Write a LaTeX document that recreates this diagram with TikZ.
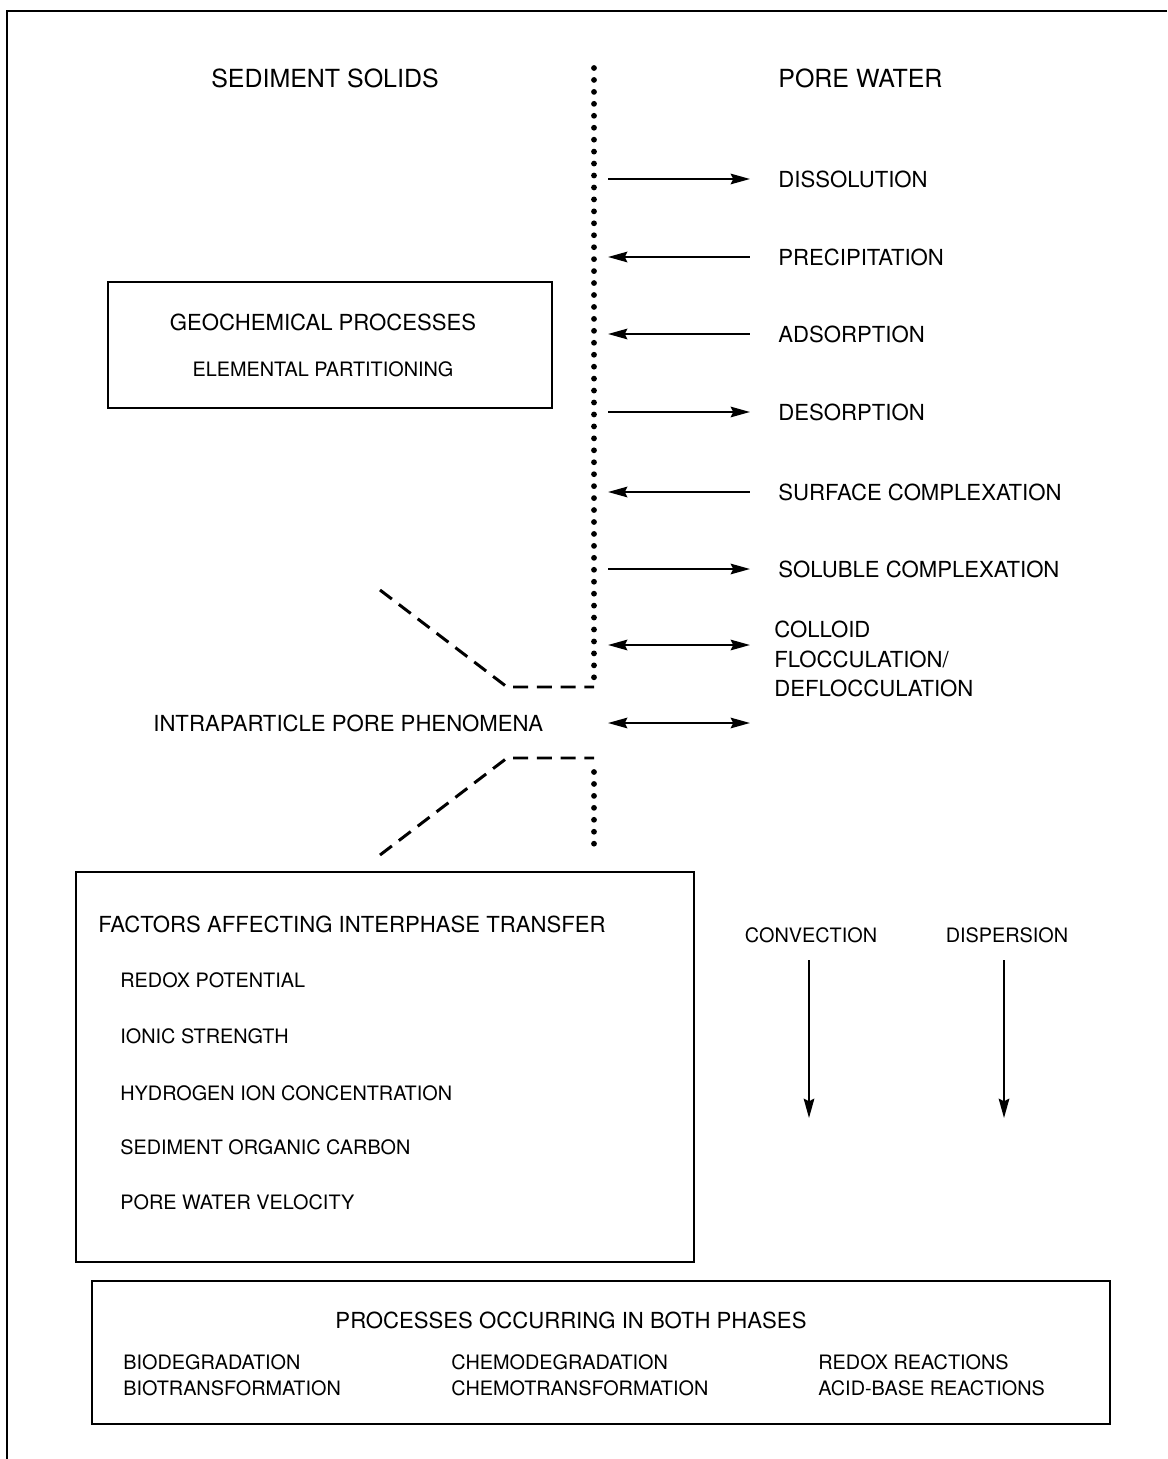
\documentclass[tikz,border=0pt]{standalone}
\usepackage{fontspec}
\setmainfont{TeX Gyre Heros}
\usepackage{tikz}
\usetikzlibrary{arrows.meta}

\begin{document}
\begin{tikzpicture}[
  x=0.02cm,
  y=-0.02cm,
  font=\fontsize{12.6}{16.7}\selectfont,
  >={Stealth[length=11pt,width=6pt,inset=1.5pt]},
  head/.style={font=\fontsize{14.2}{17}\selectfont, inner sep=0pt},
  small/.style={font=\fontsize{11.3}{13.5}\selectfont},
  lbl/.style={anchor=west, inner sep=0pt},
  frame/.style={draw, line width=1.5pt},
  box/.style={draw, line width=1.3pt},
  arr/.style={line width=1.3pt},
  fwd/.style={->},
  bwd/.style={<-},
  both/.style={<->},
  interface/.style={line width=3.3pt, line cap=round, dash pattern=on 0pt off 6.8pt},
  pore/.style={line width=1.7pt, dash pattern=on 8.5pt off 5pt}
]
  \useasboundingbox (0,0) rectangle (1167,1459);
  \draw[frame] (1167,11) -- (7,11) -- (7,1459);

  \node[head] (solids) at (325,78) {SEDIMENT SOLIDS};
  \node[head,lbl] (water) at (778,78) {PORE WATER};

  \coordinate (itop) at (594,68);
  \coordinate (igapa) at (594,680);
  \coordinate (igapb) at (594,772);
  \coordinate (ibot) at (594,846);
  \draw[interface] (itop) -- (igapa);
  \draw[interface] (igapb) -- (ibot);

  \foreach \y/\txt/\tip/\nm in {179/DISSOLUTION/fwd/diss,
                                257/PRECIPITATION/bwd/prec,
                                334/ADSORPTION/bwd/ads,
                                412/DESORPTION/fwd/des,
                                492/SURFACE COMPLEXATION/bwd/surf,
                                569/SOLUBLE COMPLEXATION/fwd/sol} {
    \node[lbl] (\nm) at (778,\y) {\txt};
    \coordinate (\nm-l) at (608,\y);
    \coordinate (\nm-r) at (750,\y);
    \draw[arr,\tip] (\nm-l) -- (\nm-r);
  }

  \node[lbl,align=left] (coll) at (774,659) {COLLOID\\FLOCCULATION/\\DEFLOCCULATION};
  \coordinate (coll-l) at (608,645);
  \coordinate (coll-r) at (750,645);
  \draw[arr,both] (coll-l) -- (coll-r);

  \node[lbl] (intra) at (153,723) {INTRAPARTICLE PORE PHENOMENA};
  \coordinate (intra-l) at (608,723);
  \coordinate (intra-r) at (750,723);
  \draw[arr,both] (intra-l) -- (intra-r);

  \coordinate (pua) at (380,590);
  \coordinate (pub) at (507,687);
  \coordinate (puc) at (594,687);
  \draw[pore] (pua) -- (pub) -- (puc);
  \coordinate (pla) at (380,855);
  \coordinate (plb) at (507,758);
  \coordinate (plc) at (594,758);
  \draw[pore] (pla) -- (plb) -- (plc);

  \draw[box] (108,282) rectangle (552,408);
  \node (geo) at (323,322) {GEOCHEMICAL PROCESSES};
  \node[small] (part) at (323,369) {ELEMENTAL PARTITIONING};

  \draw[box] (76,872) rectangle (694,1262);
  \node[lbl] (fact) at (98,924) {FACTORS AFFECTING INTERPHASE TRANSFER};
  \foreach \y/\txt in {980/REDOX POTENTIAL,
                       1036/IONIC STRENGTH,
                       1093/HYDROGEN ION CONCENTRATION,
                       1147/SEDIMENT ORGANIC CARBON,
                       1202/PORE WATER VELOCITY} {
    \node[lbl,small] at (120,\y) {\txt};
  }

  \node[small] (conv) at (811,935) {CONVECTION};
  \node[small] (disp) at (1007,935) {DISPERSION};
  \coordinate (conv-a) at (809,960);
  \coordinate (conv-b) at (809,1118);
  \coordinate (disp-a) at (1004,960);
  \coordinate (disp-b) at (1004,1118);
  \draw[arr,fwd] (conv-a) -- (conv-b);
  \draw[arr,fwd] (disp-a) -- (disp-b);

  \draw[box] (92,1281) rectangle (1110,1424);
  \node (phases) at (571,1320) {PROCESSES OCCURRING IN BOTH PHASES};
  \node[lbl,small] (bio1) at (123,1362) {BIODEGRADATION};
  \node[lbl,small] (bio2) at (123,1388) {BIOTRANSFORMATION};
  \node[lbl,small] (chem1) at (451,1362) {CHEMODEGRADATION};
  \node[lbl,small] (chem2) at (451,1388) {CHEMOTRANSFORMATION};
  \node[lbl,small] (red1) at (818,1362) {REDOX REACTIONS};
  \node[lbl,small] (red2) at (818,1388) {ACID-BASE REACTIONS};
\end{tikzpicture}
\end{document}
